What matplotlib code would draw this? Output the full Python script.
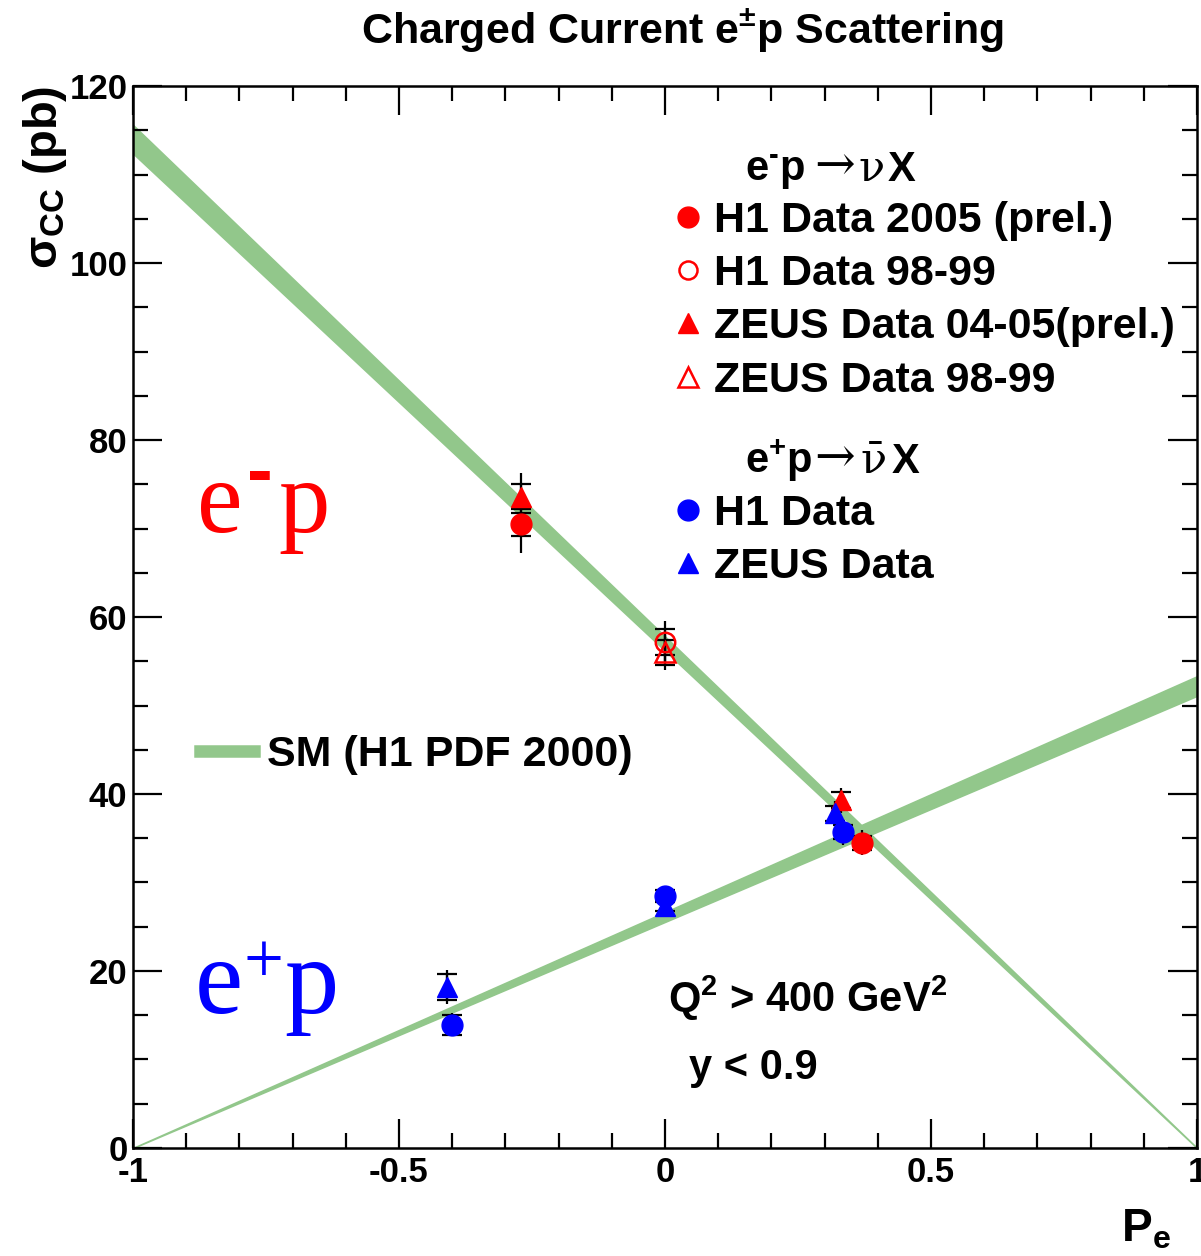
import numpy as np
import matplotlib.pyplot as plt
from matplotlib.lines import Line2D
from matplotlib.ticker import MultipleLocator, FuncFormatter

plt.rcParams['font.family'] = ['Liberation Sans', 'DejaVu Sans']
plt.rcParams['font.weight'] = 'bold'
plt.rcParams['mathtext.fontset'] = 'custom'
plt.rcParams['mathtext.rm'] = 'Liberation Sans:bold'
plt.rcParams['mathtext.bf'] = 'Liberation Sans:bold'
plt.rcParams['mathtext.it'] = 'Liberation Sans:bold'
plt.rcParams['axes.unicode_minus'] = False

# SM prediction (H1 PDF 2000): cross section at the polarisation end points
sm_pol = np.array([-1.0, 1.0])
sm_em = np.array([114.0, 0.0])
sm_em_err = np.array([1.6, 0.0])
sm_ep = np.array([0.0, 52.2])
sm_ep_err = np.array([0.0, 1.1])

# e-p -> nu X
h1_05_pol = [-0.27, 0.37]
h1_05_xs = [70.5, 34.5]
h1_05_stat = [1.3, 0.8]
h1_05_tot = [3.3, 1.4]

h1_99_pol = [0.0]
h1_99_xs = [57.2]
h1_99_stat = [1.5]
h1_99_tot = [2.3]

zeus_05_pol = [-0.27, 0.33]
zeus_05_xs = [73.6, 39.3]
zeus_05_stat = [1.4, 0.9]
zeus_05_tot = [2.7, 1.4]

zeus_99_pol = [0.0]
zeus_99_xs = [56.0]
zeus_99_stat = [1.4]
zeus_99_tot = [2.0]

# e+p -> anti-nu X
h1_ep_pol = [-0.40, 0.0, 0.335]
h1_ep_xs = [13.9, 28.5, 35.7]
h1_ep_stat = [1.1, 0.7, 0.8]
h1_ep_tot = [1.3, 1.0, 1.5]

zeus_ep_pol = [-0.41, 0.0, 0.32]
zeus_ep_xs = [18.2, 27.4, 37.8]
zeus_ep_stat = [1.5, 0.6, 0.8]
zeus_ep_tot = [1.9, 0.9, 1.4]

band_col = '#92c78b'

fig = plt.figure(figsize=(12.01, 12.56), dpi=100)
ax = fig.add_axes([0.1107, 0.0860, 0.8860, 0.8455])

ax.fill_between(sm_pol, sm_em - sm_em_err, sm_em + sm_em_err,
                color=band_col, lw=1.2, zorder=1)
ax.fill_between(sm_pol, sm_ep - sm_ep_err, sm_ep + sm_ep_err,
                color=band_col, lw=1.2, zorder=1)


def points(pol, xs, stat, tot, marker, color, filled, ms):
    ax.errorbar(pol, xs, yerr=tot, fmt='none', ecolor='black',
                elinewidth=1.6, zorder=2)
    ax.errorbar(pol, xs, yerr=stat, fmt='none', ecolor='black',
                elinewidth=1.6, capsize=7, capthick=1.6, zorder=2)
    ax.plot(pol, xs, ls='none', marker=marker, ms=ms,
            mfc=color if filled else 'none', mec=color,
            mew=1.0 if filled else 1.8, zorder=3)


points(zeus_99_pol, zeus_99_xs, zeus_99_stat, zeus_99_tot, '^', 'red', False, 14)
points(h1_99_pol, h1_99_xs, h1_99_stat, h1_99_tot, 'o', 'red', False, 14)
points(zeus_05_pol, zeus_05_xs, zeus_05_stat, zeus_05_tot, '^', 'red', True, 14)
points(h1_05_pol, h1_05_xs, h1_05_stat, h1_05_tot, 'o', 'red', True, 15)
points(zeus_ep_pol, zeus_ep_xs, zeus_ep_stat, zeus_ep_tot, '^', 'blue', True, 14)
points(h1_ep_pol, h1_ep_xs, h1_ep_stat, h1_ep_tot, 'o', 'blue', True, 15)

ax.set_xlim(-1, 1)
ax.set_ylim(0, 120)
ax.xaxis.set_major_locator(MultipleLocator(0.5))
ax.xaxis.set_minor_locator(MultipleLocator(0.1))
ax.yaxis.set_major_locator(MultipleLocator(20))
ax.yaxis.set_minor_locator(MultipleLocator(5))
fmt = FuncFormatter(lambda v, p: f"{v:g}")
ax.xaxis.set_major_formatter(fmt)
ax.yaxis.set_major_formatter(fmt)
ax.tick_params(which='both', direction='in', top=True, right=True,
               width=1.6, labelsize=25)
ax.tick_params(which='major', length=21)
ax.tick_params(which='minor', length=10.5)
ax.tick_params(axis='x', pad=6)
ax.tick_params(axis='y', pad=4)
for s in ax.spines.values():
    s.set_linewidth(1.8)

ax.set_ylabel(r'$\sigma_{CC}$ (pb)', fontsize=34, fontweight='bold', loc='top')
ax.yaxis.set_label_coords(-0.060, 1.0)
ax.set_xlabel(r'P$_{\rm e}$', fontsize=33, fontweight='bold', loc='right')
ax.xaxis.set_label_coords(0.975, -0.056)
ax.xaxis.label.set_va('top')

fig.text(0.568, 0.976, r'Charged Current e$^{\pm}$p Scattering',
         fontsize=31, ha='center', va='center')


# big process labels: "e", charge superscript, "p"
def process_label(x, y, charge, color, size, sup_dx, sup_dy, p_dx, sup_font):
    kw = dict(xycoords='axes fraction', textcoords='offset points',
              color=color, va='baseline', ha='left')
    ax.annotate('e', (x, y), xytext=(0, 0), fontsize=size,
                family='Liberation Serif', fontweight='normal', **kw)
    ax.annotate(charge, (x, y), xytext=(sup_dx, sup_dy), **sup_font, **kw)
    ax.annotate('p', (x, y), xytext=(p_dx, 0), fontsize=size,
                family='Liberation Serif', fontweight='normal', **kw)


process_label(0.060, 0.5797, '-', 'red', 74, 36, 26, 59,
              dict(fontsize=56, family='Liberation Sans', fontweight='bold'))
process_label(0.0583, 0.1272, '+', 'blue', 78, 35, 22, 64,
              dict(fontsize=51, family='Liberation Serif', fontweight='normal'))


# legend headers: process in sans, arrow and neutrino in serif
def header(x, y, beam, nu, nu_dx, x_dx):
    kw = dict(xycoords='axes fraction', textcoords='offset points',
              va='baseline', ha='left')
    serif = dict(family='DejaVu Serif', fontweight='normal')
    ax.annotate(beam, (x, y), xytext=(0, 0), fontsize=30, **kw)
    ax.annotate('\u2192', (x, y), xytext=(50, 0), fontsize=35, **serif, **kw)
    ax.annotate(nu, (x, y), xytext=(nu_dx, 0), fontsize=31, **serif, **kw)
    ax.annotate('X', (x, y), xytext=(x_dx, 0), fontsize=30, **kw)


header(0.575, 0.911, r'e$^{\text{-}}$p', '\u03bd', 82, 103)
header(0.575, 0.636, r'e$^{+}$p', '\u03bd\u0304', 83, 106)

em_handles = [
    Line2D([], [], ls='none', marker='o', ms=15, mfc='red', mec='red'),
    Line2D([], [], ls='none', marker='o', ms=13, mfc='none', mec='red', mew=1.8),
    Line2D([], [], ls='none', marker='^', ms=14, mfc='red', mec='red'),
    Line2D([], [], ls='none', marker='^', ms=14, mfc='none', mec='red', mew=1.8),
]
em_labels = ['H1 Data 2005 (prel.)', 'H1 Data 98-99',
             'ZEUS Data 04-05(prel.)', 'ZEUS Data 98-99']
leg1 = ax.legend(em_handles, em_labels, loc='upper left',
                 bbox_to_anchor=(0.506, 0.892), frameon=False, fontsize=31,
                 handlelength=0.78, handletextpad=0.2, labelspacing=0.31,
                 borderpad=0, borderaxespad=0)
ax.add_artist(leg1)

ep_handles = [
    Line2D([], [], ls='none', marker='o', ms=15, mfc='blue', mec='blue'),
    Line2D([], [], ls='none', marker='^', ms=14, mfc='blue', mec='blue'),
]
leg2 = ax.legend(ep_handles, ['H1 Data', 'ZEUS Data'], loc='upper left',
                 bbox_to_anchor=(0.506, 0.616), frameon=False, fontsize=31,
                 handlelength=0.78, handletextpad=0.2, labelspacing=0.31,
                 borderpad=0, borderaxespad=0)
ax.add_artist(leg2)

ax.legend([Line2D([], [], color=band_col, lw=9)], ['SM (H1 PDF 2000)'],
          loc='upper left', bbox_to_anchor=(0.063, 0.389), frameon=False,
          fontsize=31, handlelength=1.25, handletextpad=0.3,
          borderpad=0, borderaxespad=0)

ax.text(0.503, 0.141, r'Q$^{2}$ > 400 GeV$^{2}$', transform=ax.transAxes,
        fontsize=30, va='center')
ax.text(0.523, 0.0754, 'y < 0.9', transform=ax.transAxes,
        fontsize=30, va='center')

fig.savefig('out.png', dpi=100)
